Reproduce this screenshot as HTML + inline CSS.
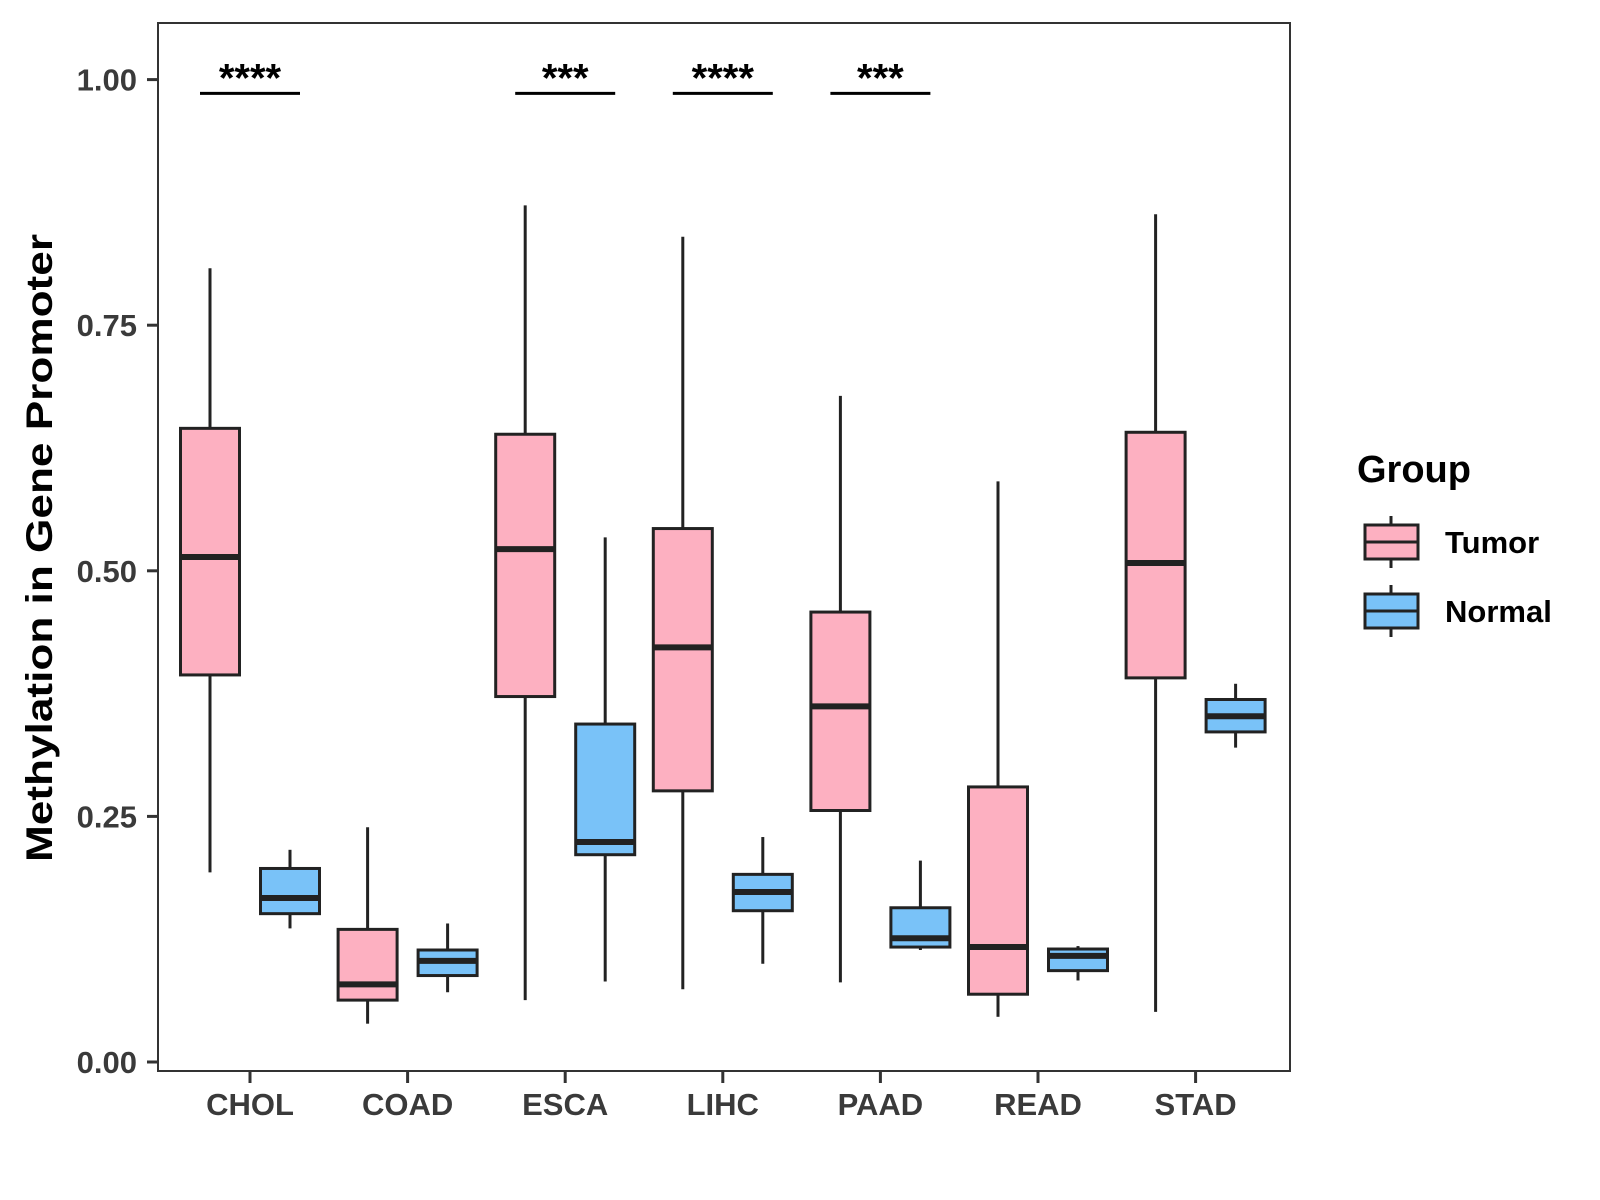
<!DOCTYPE html>
<html><head><meta charset="utf-8"><style>
html,body{margin:0;padding:0;background:#fff;}
svg{display:block;font-family:"Liberation Sans",Arial,sans-serif;}
</style></head><body>
<svg id="chart" width="1600" height="1200" viewBox="0 0 1600 1200"></svg>
<script>
const categories = ["CHOL","COAD","ESCA","LIHC","PAAD","READ","STAD"];
// [lowerWhisker, q1, median, q3, upperWhisker]
const tumorStats = [
  [0.193,0.394,0.514,0.645,0.808],
  [0.039,0.063,0.079,0.135,0.239],
  [0.063,0.372,0.522,0.639,0.872],
  [0.074,0.276,0.422,0.543,0.840],
  [0.081,0.256,0.362,0.458,0.678],
  [0.046,0.069,0.117,0.280,0.591],
  [0.051,0.391,0.508,0.641,0.863]
];
const normalStats = [
  [0.136,0.151,0.167,0.197,0.216],
  [0.071,0.088,0.103,0.114,0.141],
  [0.082,0.211,0.224,0.344,0.534],
  [0.100,0.154,0.173,0.191,0.229],
  [0.114,0.117,0.126,0.157,0.205],
  [0.083,0.093,0.108,0.115,0.118],
  [0.320,0.336,0.352,0.369,0.385]
];
const yTicks = [0,0.25,0.5,0.75,1.0];
const yTickLabels = ["0.00","0.25","0.50","0.75","1.00"];
const sigCategories = ["CHOL","ESCA","LIHC","PAAD"];
const sigLabels = ["****","***","****","***"];
const sigLevel = 0.986;

const NS="http://www.w3.org/2000/svg";
const svg=document.getElementById('chart');
const P={l:158,r:1290,t:23,b:1071};
const y0=1062, y1=79.6;
function yScale(v){return y0-(y0-y1)*v;}
function xScale(i){return 250+157.6*i;}
const OFF=40, BW=59;
function mk(tag,attrs,parent){const e=document.createElementNS(NS,tag);for(const k in attrs)e.setAttribute(k,attrs[k]);(parent||svg).appendChild(e);return e;}

const panel=mk('rect',{x:P.l,y:P.t,width:P.r-P.l,height:P.b-P.t,fill:'#fff',stroke:'#333',"stroke-width":2});



yTicks.forEach((v,i)=>{
  const y=yScale(v);
  const t=mk('line',{x1:147,x2:P.l,y1:y,y2:y,stroke:'#333',"stroke-width":3});
  
  
  const l=mk('text',{x:137,y:y+11,"text-anchor":"end","font-size":31,"font-weight":"bold",fill:'#3a3a3a'});
  l.textContent=yTickLabels[i];
  
  
});
categories.forEach((c,i)=>{
  const x=xScale(i);
  const t=mk('line',{x1:x,x2:x,y1:P.b,y2:P.b+12,stroke:'#333',"stroke-width":3});
  
  
  const l=mk('text',{x:x,y:1115,"text-anchor":"middle","font-size":31,"font-weight":"bold",fill:'#3a3a3a'});
  l.textContent=c;
  
  
});

function drawBox(cx,s,fill,name){
  const g=mk('g',{});
  
  
  mk('line',{x1:cx,x2:cx,y1:yScale(s[4]),y2:yScale(s[3]),stroke:'#222',"stroke-width":3},g);
  mk('line',{x1:cx,x2:cx,y1:yScale(s[1]),y2:yScale(s[0]),stroke:'#222',"stroke-width":3},g);
  mk('rect',{x:cx-BW/2,y:yScale(s[3]),width:BW,height:yScale(s[1])-yScale(s[3]),fill:fill,stroke:'#222',"stroke-width":3},g);
  mk('line',{x1:cx-BW/2,x2:cx+BW/2,y1:yScale(s[2]),y2:yScale(s[2]),stroke:'#222',"stroke-width":6},g);
}
categories.forEach((c,i)=>{
  drawBox(xScale(i)-OFF,tumorStats[i],'#FDB0C1','box-tumor-'+c.toLowerCase());
  drawBox(xScale(i)+OFF,normalStats[i],'#79C2F8','box-normal-'+c.toLowerCase());
});

sigCategories.forEach((c,k)=>{
  const x=xScale(categories.indexOf(c));
  const y=yScale(sigLevel);
  const ln=mk('line',{x1:x-50,x2:x+50,y1:y,y2:y,stroke:'#000',"stroke-width":3});
  
  
  const t=mk('text',{x:x,y:y-2,"text-anchor":"middle","font-size":40,"font-weight":"bold",fill:'#000'});
  t.textContent=sigLabels[k];
  
  
});

const yt=mk('text',{x:0,y:0,transform:'translate(52,548) rotate(-90)',"text-anchor":"middle","font-size":37,"font-weight":"bold",fill:'#000',textLength:628,lengthAdjust:'spacingAndGlyphs'});
yt.textContent='Methylation in Gene Promoter';



const lg=mk('g',{});


const lt=mk('text',{x:1357,y:482,"font-size":38,"font-weight":"bold",fill:'#000'},lg);
lt.textContent='Group';


[['Tumor','#FDB0C1',542],['Normal','#79C2F8',611]].forEach(([n,f,cy])=>{
  const e=mk('g',{},lg);
  
  
  mk('line',{x1:1391,x2:1391,y1:cy-26,y2:cy+26,stroke:'#222',"stroke-width":3},e);
  mk('rect',{x:1365,y:cy-17,width:53,height:34,fill:f,stroke:'#222',"stroke-width":3},e);
  mk('line',{x1:1365,x2:1418,y1:cy,y2:cy,stroke:'#222',"stroke-width":3},e);
  const t=mk('text',{x:1445,y:cy+11,"font-size":31,"font-weight":"bold",fill:'#000'},e);
  t.textContent=n;
});
</script>
</body></html>
